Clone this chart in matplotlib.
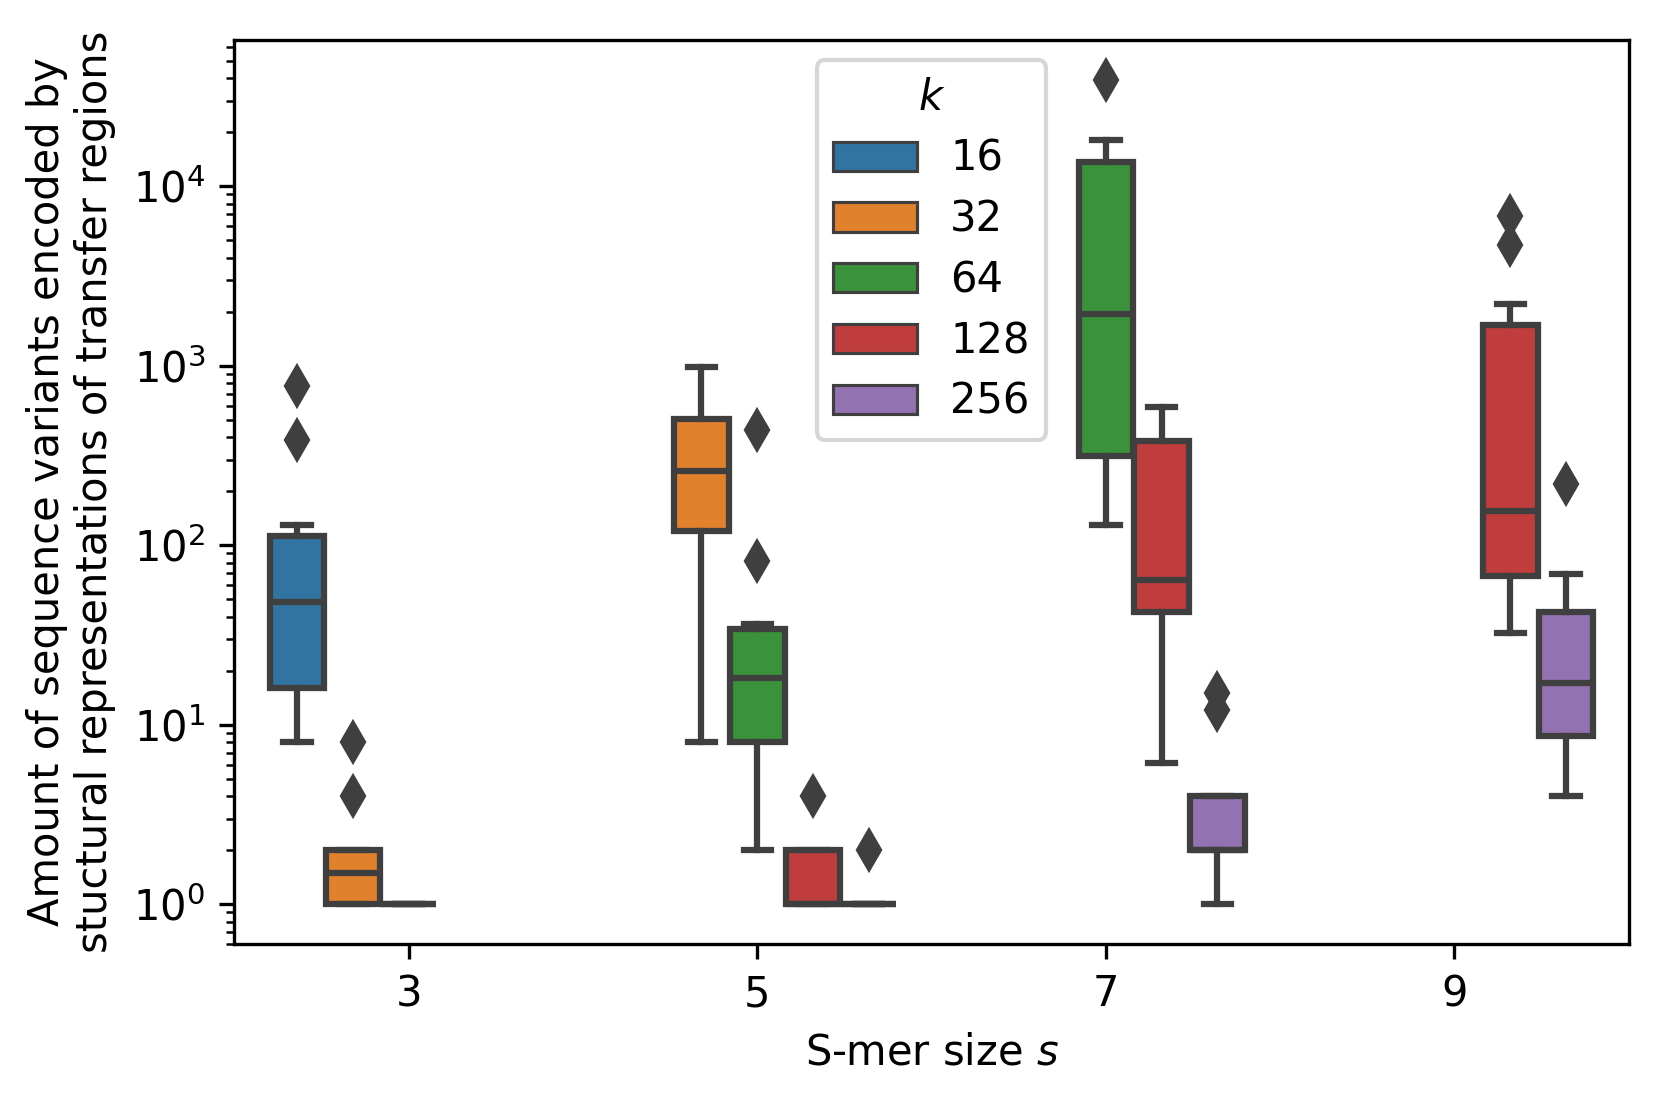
import matplotlib
matplotlib.use("Agg")
import matplotlib.pyplot as plt
from matplotlib.patches import Patch

# s-mer sizes on the x axis and k values used as hue
s_sizes = [3, 5, 7, 9]
k_values = [16, 32, 64, 128, 256]
colors = ["#3274a1", "#e1812c", "#3a923a", "#c03d3e", "#9372b2"]

# box summaries (one entry per drawn box)
box_s = [3, 3, 3, 5, 5, 5, 5, 7, 7, 7, 9, 9]
box_k = [16, 32, 64, 32, 64, 128, 256, 64, 128, 256, 128, 256]
q1 = [16, 1, 1, 120, 8, 1, 1, 316, 42.5, 2, 67.7, 8.7]
med = [48.5, 1.5, 1, 258, 18.1, 1, 1, 1950, 64.3, 2, 155, 17.1]
q3 = [113, 2, 1, 507, 34, 2, 1, 13600, 382, 4, 1680, 42.3]
whislo = [8, 1, 1, 8, 2, 1, 1, 129, 6.1, 1, 32.5, 4]
whishi = [129, 2, 1, 980, 36.5, 2, 1, 18000, 586, 4, 2200, 68.8]
fliers = [[775, 388], [8, 4], [], [], [436, 82], [4], [2],
          [39300], [], [15, 12], [6800, 4710], [220]]

gray = "#3f3f3f"
n_hue = len(k_values)
slot = 0.8 / n_hue
width = slot * 0.98

fig = plt.figure(figsize=(5.54, 3.67), dpi=300)
ax = fig.add_axes([0.141, 0.1426, 0.839, 0.8214])

stats, positions, facecolors = [], [], []
for i in range(len(box_s)):
    xi = s_sizes.index(box_s[i])
    hi = k_values.index(box_k[i])
    positions.append(xi - 0.4 + slot * (hi + 0.5))
    facecolors.append(colors[hi])
    stats.append(dict(q1=q1[i], med=med[i], q3=q3[i], whislo=whislo[i],
                      whishi=whishi[i], fliers=fliers[i]))

bp = ax.bxp(stats, positions=positions, widths=width, capwidths=width * 0.5,
            patch_artist=True, manage_ticks=False,
            boxprops=dict(edgecolor=gray, linewidth=1.5),
            medianprops=dict(color=gray, linewidth=1.5),
            whiskerprops=dict(color=gray, linewidth=1.5),
            capprops=dict(color=gray, linewidth=1.5),
            flierprops=dict(marker="d", markerfacecolor=gray,
                            markeredgecolor=gray, markersize=6.5))
for patch, c in zip(bp["boxes"], facecolors):
    patch.set_facecolor(c)

ax.set_yscale("log")
ax.set_ylim(0.6, 65600)
ax.set_xlim(-0.5, 3.5)
ax.set_xticks(range(len(s_sizes)))
ax.set_xticklabels([str(s) for s in s_sizes])
ax.set_xlabel("S-mer size $s$")
ax.set_ylabel("Amount of sequence variants encoded by\n"
              "stuctural representations of transfer regions")

handles = [Patch(facecolor=c, edgecolor=gray, linewidth=0.75) for c in colors]
ax.legend(handles, [str(k) for k in k_values], title="$k$",
          loc="upper center", labelspacing=0.45)

fig.savefig("out.png", dpi=300)
